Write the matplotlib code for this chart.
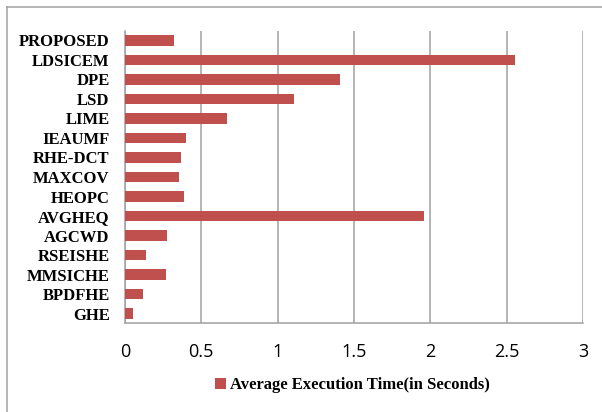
import matplotlib.pyplot as plt
from matplotlib.lines import Line2D
from matplotlib.patches import Patch

# execution times per method, listed bottom to top
methods = ['GHE', 'BPDFHE', 'MMSICHE', 'RSEISHE', 'AGCWD', 'AVGHEQ', 'HEOPC',
           'MAXCOV', 'RHE-DCT', 'IEAUMF', 'LIME', 'LSD', 'DPE', 'LDSICEM', 'PROPOSED']
exec_time = [0.053, 0.121, 0.271, 0.138, 0.278, 1.962, 0.385,
             0.357, 0.370, 0.400, 0.671, 1.108, 1.408, 2.556, 0.322]
xticks = [0, 0.5, 1, 1.5, 2, 2.5, 3]
xtick_labels = ['0', '0.5', '1', '1.5', '2', '2.5', '3']

bar_color = '#C0504D'
grid_color = '#A0A0A0'

fig = plt.figure(figsize=(6.02, 4.12), dpi=100)
ax = fig.add_axes([0.2075, 0.2153, 0.7608, 0.7102])

ypos = list(range(len(methods)))
ax.barh(ypos, exec_time, height=0.55, color=bar_color, zorder=3)

ax.set_xlim(0, 3)
ax.set_ylim(-0.5, len(methods) - 0.5)
ax.set_xticks(xticks)
ax.set_xticklabels(xtick_labels, fontfamily='Open Sans', fontsize=13)
ax.set_yticks(ypos)
ax.set_yticklabels(methods, fontfamily='Liberation Serif', fontweight='bold', fontsize=12)
ax.tick_params(axis='x', length=0, pad=14)
ax.tick_params(axis='y', length=0, pad=11)

ax.grid(axis='x', color=grid_color, linewidth=1.1, zorder=0)
for side in ['top', 'right']:
    ax.spines[side].set_visible(False)
for side in ['left', 'bottom']:
    ax.spines[side].set_color(grid_color)
    ax.spines[side].set_linewidth(1.1)

# legend below the axis
handle = Patch(facecolor=bar_color, edgecolor='none')
fig.legend([handle], ['Average Execution Time(in Seconds)'],
           loc='center', bbox_to_anchor=(0.585, 0.065), frameon=False,
           handlelength=0.65, handleheight=0.65, handletextpad=0.25,
           prop={'family': 'Liberation Serif', 'weight': 'bold', 'size': 12})

# chart-area outline (top and left edges)
fig.add_artist(Line2D([6.5 / 602, 6.5 / 602], [0, 1 - 7.3 / 412],
                      transform=fig.transFigure, color=grid_color, linewidth=1.1))
fig.add_artist(Line2D([6.5 / 602, 1], [1 - 7.3 / 412, 1 - 7.3 / 412],
                      transform=fig.transFigure, color=grid_color, linewidth=1.1))

fig.savefig('out.png', dpi=100)
